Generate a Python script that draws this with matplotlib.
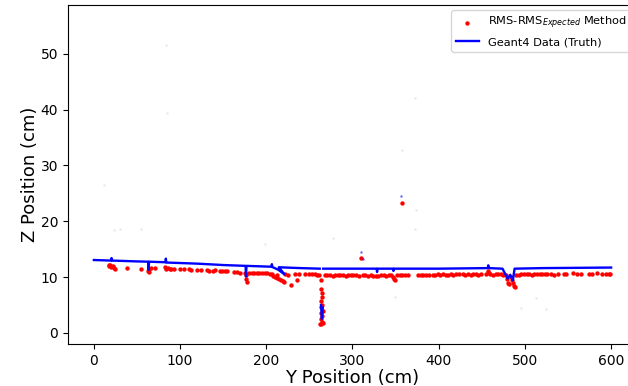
import numpy as np
import matplotlib
matplotlib.use('Agg')
import matplotlib.pyplot as plt

# RMS-RMS_expected reconstructed points (Y, Z) in cm
rms_y = [17, 18, 19, 20, 22, 23, 25, 38, 55, 63, 63.5, 64, 66, 71,
         82, 84, 86, 88, 90, 93, 100, 104, 110, 113, 120, 124, 131, 134,
         138, 141, 146, 149, 152, 155, 163, 166, 170, 175, 176, 177, 177.5,
         180, 183, 186, 189, 192, 195, 198, 201, 204,
         207, 208, 210, 212, 213, 215, 217, 219, 220, 222, 225,
         229, 233, 236, 238, 245, 249, 253, 256, 259, 261,
         263, 264, 264.5, 265, 264, 265, 263.5, 265.5, 264, 265, 263, 264.5, 262.5, 264, 265.5,
         268, 271, 274, 277, 280, 283, 286, 289, 292, 295, 298, 301, 304, 307,
         312, 315, 318, 321, 324, 327, 330, 333, 336, 339, 342, 345,
         347, 348, 349, 352, 355, 358, 361, 364, 376, 379, 382, 385, 389,
         393, 396, 399, 402, 405, 408, 411, 414, 417, 420, 424,
         310, 357,
         428, 431, 434, 437, 440, 443, 446, 449, 455, 457, 458, 460, 463,
         466, 469, 472, 475, 478, 479, 480, 481, 484, 485, 486, 487, 488,
         490, 493, 496, 499, 502, 505, 508, 511, 514, 517, 520, 523, 526,
         530, 534, 538, 545, 548, 556, 560, 565, 574, 578, 584, 590, 594, 597, 599]
rms_z = [12.1, 11.9, 12.2, 11.8, 12.0, 11.6, 11.5, 11.6, 11.4, 11.1, 11.5, 10.9, 11.6, 11.7,
         11.8, 11.5, 11.7, 11.5, 11.4, 11.5, 11.4, 11.4, 11.5, 11.3, 11.3, 11.2, 11.2, 11.1,
         11.1, 11.2, 11.0, 11.0, 11.0, 11.0, 10.9, 10.9, 10.8, 10.8, 10.3, 9.6, 9.2,
         10.8, 10.8, 10.7, 10.8, 10.7, 10.8, 10.7, 10.7, 10.6,
         10.6, 10.2, 10.0, 10.3, 9.8, 9.7, 9.5, 9.3, 9.1, 10.5, 10.4,
         8.6, 10.5, 9.4, 10.6, 10.5, 10.5, 10.5, 10.5, 10.4, 10.3,
         9.5, 7.8, 7.2, 6.4, 5.7, 5.0, 4.6, 4.0, 3.6, 3.0, 2.4, 2.0, 1.6, 1.5, 1.8,
         10.3, 10.3, 10.4, 10.2, 10.3, 10.3, 10.4, 10.3, 10.2, 10.3, 10.4, 10.3, 10.3, 10.2,
         10.3, 10.3, 10.2, 10.4, 10.1, 10.2, 10.2, 10.3, 10.3, 10.2, 10.3, 10.3,
         10.0, 9.7, 9.4, 10.3, 10.3, 10.3, 10.3, 10.4, 10.3, 10.3, 10.3, 10.3, 10.3,
         10.4, 10.4, 10.5, 10.4, 10.5, 10.4, 10.4, 10.5, 10.4, 10.5, 10.5,
         13.4, 23.3,
         10.5, 10.4, 10.5, 10.4, 10.5, 10.5, 10.4, 10.5, 10.6, 11.0, 10.7, 10.5, 10.4,
         10.5, 10.5, 10.5, 10.4, 10.3, 9.6, 9.0, 8.8, 10.0, 9.5, 8.9, 8.4, 8.2,
         10.3, 10.4, 10.5, 10.6, 10.5, 10.5, 10.4, 10.5, 10.5, 10.5, 10.5, 10.5, 10.5,
         10.5, 10.4, 10.5, 10.5, 10.6, 10.7, 10.6, 10.6, 10.6, 10.5, 10.7, 10.5, 10.6, 10.5, 10.5]

# Geant4 truth track (Y, Z) in cm
truth_y = [0, 20, 20.5, 21, 50, 63, 63.5, 64, 83, 83.5, 84, 120, 150, 176, 176.5, 177,
           206, 206.5, 207, 214, 221, 214.5, 240, 262, np.nan, 263.5, 264.5, 265.5, np.nan,
           266, 300, 328, 328.5, 329, 347, 347.5, 348, 400, 457, 457.5, 458,
           474, 480, 483, 486, 488, 520, 600]
truth_z = [13.05, 12.95, 13.4, 12.95, 12.8, 12.75, 11.3, 12.75, 12.65, 13.3, 12.6, 12.4, 12.15, 12.0, 10.1, 12.0,
           11.85, 12.3, 11.8, 11.3, 10.5, 11.75, 11.6, 11.5, np.nan, 5.0, 2.5, 4.5, np.nan,
           11.5, 11.5, 11.5, 10.9, 11.5, 11.5, 11.1, 11.5, 11.5, 11.6, 12.1, 11.6,
           11.5, 9.7, 10.4, 9.4, 11.5, 11.6, 11.7]
truth_pts_y = [310, 356, 312]
truth_pts_z = [14.5, 24.5, 13.2]

# faint background hits
faint_y = [12, 84, 85, 23, 30, 55, 199, 277, 358, 373, 374, 373, 349, 513, 495, 524]
faint_z = [26.5, 51.6, 39.4, 18.5, 18.6, 18.6, 16.0, 17.0, 32.8, 42.0, 22.0, 18.6, 6.5, 6.3, 4.5, 4.3]

fig = plt.figure(figsize=(6.28, 3.86), dpi=100)
ax = fig.add_axes([0.1083, 0.1088, 0.906, 0.879])

ax.scatter(faint_y, faint_z, s=3, color='#d8d8e4', alpha=0.6, linewidths=0)
ax.scatter(rms_y, rms_z, s=10, color='red', linewidths=0,
           label=r'RMS-RMS$_{Expected}$ Method')
ax.plot(truth_y, truth_z, color='blue', lw=1.7, label='Geant4 Data (Truth)')
ax.scatter(truth_pts_y, truth_pts_z, s=3, color='blue', alpha=0.6, linewidths=0)

ax.set_xlim(-30, 630)
ax.set_ylim(-2, 58.8)
ax.set_xlabel('Y Position (cm)', fontsize=13, labelpad=1)
ax.set_ylabel('Z Position (cm)', fontsize=13, labelpad=1)
ax.legend(loc='upper right', fontsize=8.2, scatterpoints=1)

fig.savefig('out.png', dpi=100)
